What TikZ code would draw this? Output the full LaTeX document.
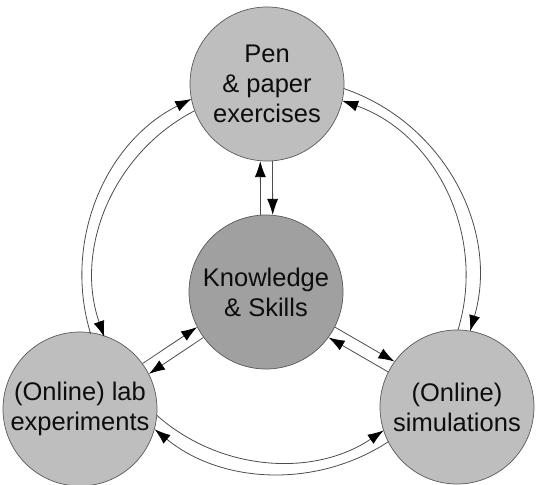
\documentclass[tikz,border=0pt]{standalone}
\usepackage{fontspec}
\setmainfont{Liberation Sans}
\usetikzlibrary{arrows.meta}
\definecolor{outergray}{RGB}{190,190,190}
\definecolor{coregray}{RGB}{160,160,160}
\begin{document}
\begin{tikzpicture}[x=1pt,y=1pt,
  circ/.style={circle, draw=black!65, line width=0.7pt, minimum size=154pt, inner sep=0pt, align=center,
    font=\fontsize{25.5}{30}\selectfont, text=black!95},
  outernode/.style={circ, fill=outergray},
  corenode/.style={circ, fill=coregray},
  arr/.style={draw=black!70, line width=0.8pt, -{Latex[length=16pt,width=11pt,color=black]}}]
\useasboundingbox (0,0) rectangle (536,-485);
\clip (0,0) rectangle (536,-485);
\node[outernode] (top) at (267,-84) {Pen\\\& paper\\exercises};
\node[corenode] (mid) at (266,-292) {Knowledge\\\& Skills};
\node[outernode] (lab) at (80,-409) {(Online) lab\\experiments};
\node[outernode] (sim) at (457,-407) {(Online)\\simulations};
\coordinate (ring) at (280,-276);
% centre links
\draw[arr] (mid.94.5) -- (top.265.5);
\draw[arr] (top.274.5) -- (mid.85.5);
\draw[arr] (lab.36.7) -- (mid.207.7);
\draw[arr] (mid.216.7) -- (lab.27.7);
\draw[arr] (mid.333.45) -- (sim.144.45);
\draw[arr] (sim.153.45) -- (mid.324.45);
% outer ring (clockwise)
\draw[arr] ([shift={(197:198)}]ring) arc[start angle=197, end angle=116.6, radius=198];
\draw[arr] ([shift={(71.2:198)}]ring) arc[start angle=71.2, end angle=-16.2, radius=198];
\draw[arr] ([shift={(303.2:198)}]ring) arc[start angle=303.2, end angle=230.7, radius=198];
% inner ring (counter-clockwise)
\draw[arr] ([shift={(117.3:186)}]ring) arc[start angle=117.3, end angle=199.15, radius=186];
\draw[arr] ([shift={(-16.9:186)}]ring) arc[start angle=-16.9, end angle=70.5, radius=186];
\draw[arr] ([shift={(228.5:186)}]ring) arc[start angle=228.5, end angle=303.9, radius=186];
\end{tikzpicture}
\end{document}
